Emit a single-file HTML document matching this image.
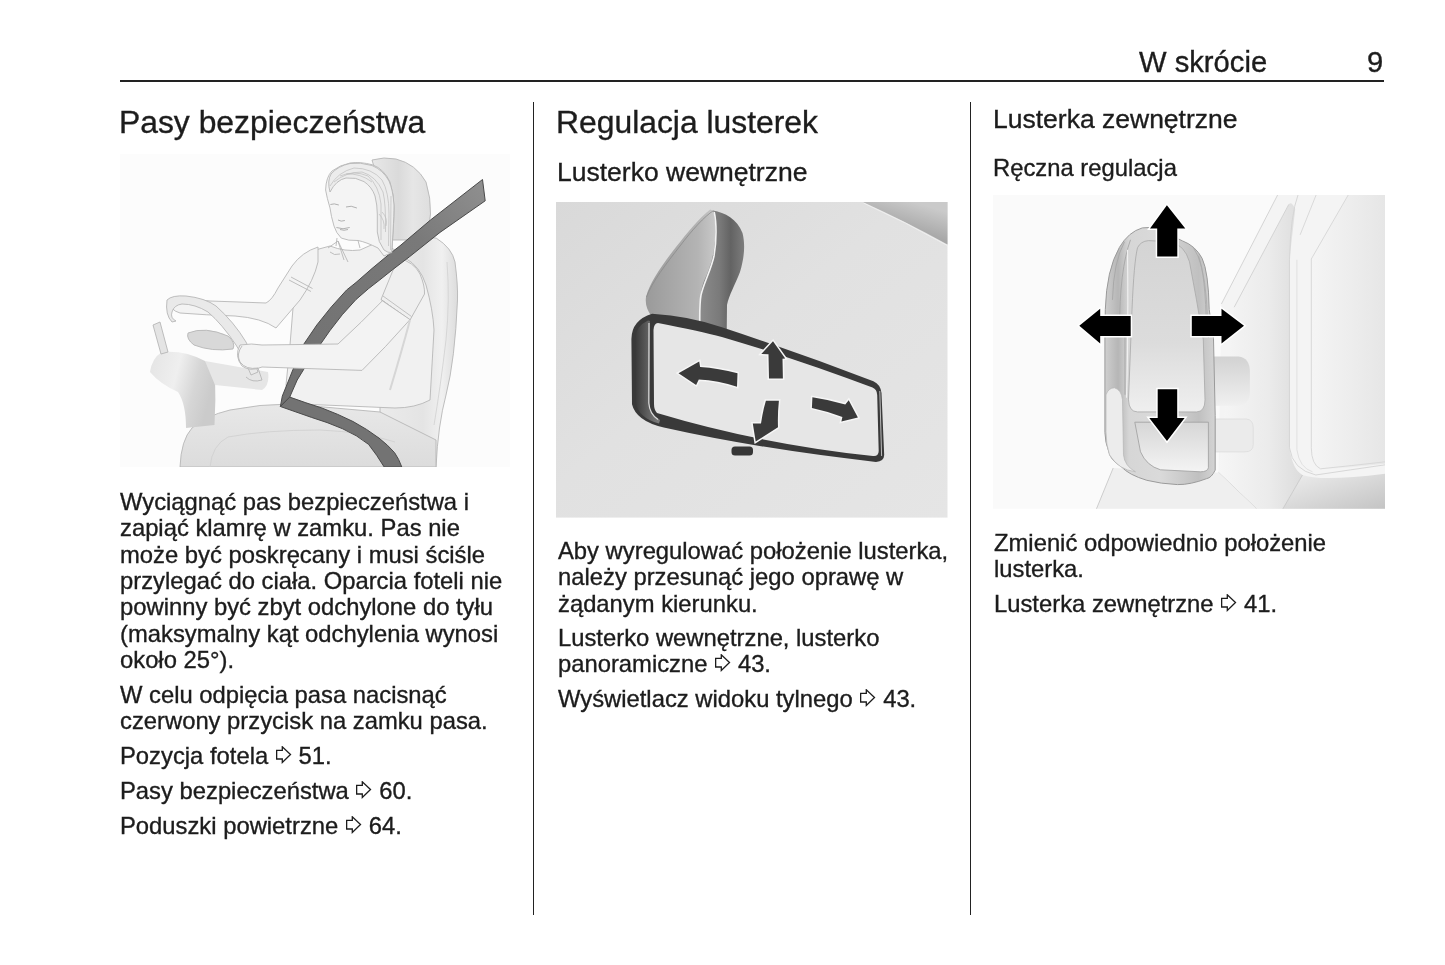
<!DOCTYPE html>
<html lang="pl">
<head>
<meta charset="utf-8">
<title>W skrócie 9</title>
<style>
html,body{margin:0;padding:0;background:#fff;}
body{width:1445px;height:965px;position:relative;overflow:hidden;font-family:"Liberation Sans",sans-serif;color:#1c1c1c;}
.t{position:absolute;white-space:nowrap;will-change:transform;-webkit-text-stroke:0.35px #1c1c1c;}
.h1{font-size:31.85px;line-height:40px;}
.h2{font-size:26.5px;line-height:32px;}
.hd{font-size:29.2px;line-height:36px;}
.p{font-size:23.8px;line-height:26.35px;}
.rule{position:absolute;background:#222;}
.ar{display:inline-block;width:16px;height:18px;vertical-align:0.3px;margin:0 0.4px 0 0.8px;}
.img{position:absolute;overflow:hidden;display:block;}
</style>
</head>
<body>
<!-- header -->
<div class="t hd" style="left:1139px;top:44.4px">W skrócie</div>
<div class="t hd" style="left:1367.3px;top:44.4px">9</div>
<div class="rule" style="left:120px;top:80px;width:1264px;height:1.6px"></div>
<div class="rule" style="left:532.7px;top:102.4px;width:1.8px;height:812.8px"></div>
<div class="rule" style="left:969.5px;top:102.4px;width:1.8px;height:812.8px"></div>

<!-- left column -->
<div class="t h1" style="left:118.8px;top:101.8px">Pasy bezpieczeństwa</div>
<svg class="img" style="left:120px;top:154px" width="390" height="313" viewBox="120 154 390 313">
<defs>
<linearGradient id="belt1" x1="1" y1="0" x2="0" y2="1"><stop offset="0" stop-color="#909090"/><stop offset="0.3" stop-color="#797979"/><stop offset="1" stop-color="#707070"/></linearGradient>
<linearGradient id="seat1" x1="0" y1="0" x2="1" y2="0"><stop offset="0" stop-color="#ebebeb"/><stop offset="0.55" stop-color="#e4e4e4"/><stop offset="0.8" stop-color="#f0f0f0"/><stop offset="1" stop-color="#dcdcdc"/></linearGradient>
<linearGradient id="hr1" x1="0" y1="0" x2="1" y2="0"><stop offset="0" stop-color="#e8e8e8"/><stop offset="0.45" stop-color="#dadada"/><stop offset="0.7" stop-color="#e6e6e6"/><stop offset="1" stop-color="#dedede"/></linearGradient>
<linearGradient id="cush1" x1="0" y1="0" x2="0" y2="1"><stop offset="0" stop-color="#e8e8e8"/><stop offset="1" stop-color="#dcdcdc"/></linearGradient>
<linearGradient id="dash1" x1="0" y1="0" x2="1" y2="0.3"><stop offset="0" stop-color="#e4e4e4"/><stop offset="0.45" stop-color="#efefef"/><stop offset="0.75" stop-color="#d6d6d6"/><stop offset="1" stop-color="#cbcbcb"/></linearGradient>
</defs>
<rect x="120" y="154" width="390" height="313" fill="#fcfcfc"/>
<g stroke="#b4b4b4" stroke-width="0.85">
<!-- seat back -->
<path d="M410 236 L436.2 238.1 Q452 248 455 262 Q458 285 457.5 300 Q455 360 446 395 Q438 425 436 467 L380 467 L380 300 Z" fill="url(#seat1)"/>
<path d="M447 262 Q450 300 446 340 Q440 390 434 425" fill="none" stroke="#d2d2d2"/>
<!-- headrest -->
<path d="M372 160 Q384 156.5 396 159 Q416 164 426 182 Q431 198 430.5 214 Q429.5 230 420 240 L392 240 L378 180 Z" fill="url(#hr1)"/>
<!-- seat cushion / thighs -->
<path d="M180 467 Q181 440 192 428 Q205 416 230 410 Q260 404 290 404 L380 412 L436 440 L436 467 Z" fill="url(#cush1)"/>
<path d="M210 467 Q212 445 228 437 Q265 430 320 430 Q365 432 395 442" fill="none" stroke="#d0d0d0"/>
<!-- torso -->
<path d="M308 252 L330 246 Q345 252 360 250 L378 242 Q395 248 405 258 Q420 266 426 285 Q433 310 434 330 L430 400 Q415 408 395 408 L300 404 Q288 400 286 385 L290 345 L293 308 Q298 280 308 252 Z" fill="#f1f1f1"/>
<!-- upper arm (to wheel top) -->
<path d="M318 247 Q302 252 292 266 L278 288 Q272 300 266 303 Q240 302 210 301 Q190 299 178 297 L170 300 Q169 310 180 313 Q205 315 235 316 Q262 318 276 328 L300 300 Q314 280 318 262 Z" fill="#f3f3f3"/>
<path d="M289 280 L311 291.5 M291 277 L312.5 288.5" fill="none"/>
<!-- steering column / dashboard -->
<path d="M162 352 Q185 350 205 361 Q212 368 215 376 Q216 400 214.5 425 L186 428 Q186 404 178 392 Q160 384 150 372 Q152 358 162 352 Z" fill="url(#dash1)" stroke="none"/>
<path d="M205 361 L268 372 Q270 385 262 390 L215 385 Z" fill="#e6e6e6" stroke="none"/>
<path d="M153 325 L160 322 L168 352 L161 354 Z" fill="#e4e4e4"/>
<path d="M188 333 Q205 326 228 336 Q236 343 233 349 Q212 352 194 345 Q186 339 188 333 Z" fill="#d8d8d8"/>
<!-- wheel rim -->
<path d="M167 300 Q172 295 186 296 Q205 298 216 306 Q234 322 246 342 Q254 356 258 372 L251 375 Q245 358 236 345 Q222 324 208 312 Q195 304 182 304 Q174 305 172 312 Q170 318 176 321 L172 322 Q165 315 167 300 Z" fill="#e9e9e9"/>
<!-- sleeve -->
<path d="M398 258 Q414 262 420 274 Q425 286 424.5 294 L410 320 L381 299.5 Z" fill="#efefef"/>
<path d="M381 299.5 L410 320 M383 296 L411.5 316.5" fill="none" stroke="#b8b8b8"/>
<!-- shoulder belt -->
<path d="M482.5 179.5 L430.5 220 L400 245.8 L389.5 254 L372 268.5 L356 282.5 L346.6 290 L331.3 306.9 L316.8 325 L303 345.3 L292.9 369.7 L288.8 380 L282.3 396.1 L280.4 406.5 L289.7 397.1 L297.2 380 L303.5 369.7 L319.7 345.3 L329.8 330.8 L342.2 314.8 L356 299.5 L368.7 288.5 L379.9 279.8 L392.3 269.9 L409.8 256.5 L440 232.4 L485.2 200.8 Z" fill="url(#belt1)" stroke="#4a4a4a" stroke-width="1"/>
<!-- lap belt -->
<path d="M289.7 397.1 Q306 403 321.9 408 Q338 414 353 421.5 Q367 429 379 438.1 Q388 445 394.6 452.7 Q399 459 401.8 467 L384.2 467 Q377 455 368.6 444.4 Q357 435 342.7 428.8 Q327 422 311.5 417.4 Q296 412 280.4 406.5 Z" fill="#737373" stroke="#4a4a4a" stroke-width="1"/>
<!-- forearm over belt -->
<path d="M240 345 Q252 343 262 345 L338 344 Q362 322 382.4 300.8 L410 319.6 Q385 348 362 370.4 L262 367 Q250 372 242 366 Q234 356 240 345 Z" fill="#f3f3f3"/>
<path d="M410 320 Q402 350 390 390" fill="none" stroke="#d6d6d6" stroke-width="2"/>
<path d="M242 346 Q236 354 240 362 Q246 370 258 368 L262 380 Q252 383 246 377" fill="none"/>
<!-- head -->
<path d="M325.6 190 Q326 177 332 171 Q340 165 350 163 Q360 161.5 372.5 164.8 Q384 169 390 182 Q394 194 394.1 208 Q394 222 393 232 Q392.5 244 391.7 252.6 L384 256 L378 248 Q366 242 358 240.5 Q348 241 341.3 238.1 Q336 233 334 226 Q331 216 330 208 Q327 198 325.6 190 Z" fill="#f4f4f4"/>
<path d="M330 192 Q336 180 346 178 Q356 177 364 181.6 Q372 187 375 196 Q377.3 205 377.3 214 L377.3 232 Q378 242 384 250 Q388 253 391.7 252.6 L393 232 Q394 214 394 205 Q393 190 389 181 Q383 170 372 165.5 Q360 162 350 163.5 Q338 166 331 174 Q327 181 330 192 Z" fill="#ececec"/>
<path d="M330 186 Q338 172 354 168 Q372 168 382 180 Q389 192 389 214 L388.5 246 M334 182 Q346 172 362 172 Q376 176 383 192 Q386 204 385.5 232 M340 176 Q354 170 368 176 Q379 186 381 204 L381 240 M346 174 Q360 173 372 182 M382 212 Q388 218 386 226 M379 214 Q385 220 384 229 M391 196 L390.5 250" fill="none" stroke="#bdbdbd" stroke-width="0.7"/>
<path d="M330.4 204.5 Q334 203 338.8 205 M346 207 Q351 205 356.9 208 M338 220 Q341 222 344.9 220.5 M336.4 227.5 Q343 230 349.7 227.5 M340 229.5 Q344 231 348 229.5" fill="none" stroke="#a8a8a8" stroke-width="0.9"/>
<path d="M337 238 L336 246 M358 240.5 L360 248" fill="none"/>
<path d="M328 248 L338 241 L348 262 M338 241 L344 260 M330 252 Q334 256 340 254" fill="none"/>
</g>
</svg>
<div class="t p" style="left:120.4px;top:488.5px">Wyciągnąć pas bezpieczeństwa i<br>zapiąć klamrę w zamku. Pas nie<br>może być poskręcany i musi ściśle<br>przylegać do ciała. Oparcia foteli nie<br>powinny być zbyt odchylone do tyłu<br>(maksymalny kąt odchylenia wynosi<br>około 25°).</div>
<div class="t p" style="left:120.4px;top:681.7px">W celu odpięcia pasa nacisnąć<br>czerwony przycisk na zamku pasa.</div>
<div class="t p" style="left:120.4px;top:742.5px">Pozycja fotela <svg class="ar"><use href="#arr"/></svg> 51.</div>
<div class="t p" style="left:120.4px;top:777.9px">Pasy bezpieczeństwa <svg class="ar"><use href="#arr"/></svg> 60.</div>
<div class="t p" style="left:120.4px;top:813.2px">Poduszki powietrzne <svg class="ar"><use href="#arr"/></svg> 64.</div>

<!-- middle column -->
<div class="t h1" style="left:555.7px;top:101.8px">Regulacja lusterek</div>
<div class="t h2" style="left:556.8px;top:156.3px">Lusterko wewnętrzne</div>
<svg class="img" style="left:556px;top:202px" width="391.5" height="315.6" viewBox="556 202 391.5 315.6">
<defs>
<linearGradient id="bg2" x1="0" y1="0" x2="1" y2="1"><stop offset="0" stop-color="#d9d9d9"/><stop offset="0.45" stop-color="#e1e1e1"/><stop offset="1" stop-color="#e5e5e5"/></linearGradient>
<linearGradient id="tr2" x1="0" y1="1" x2="0.6" y2="0"><stop offset="0" stop-color="#8a8a8a"/><stop offset="0.5" stop-color="#a8a8a8"/><stop offset="1" stop-color="#cacaca"/></linearGradient>
<linearGradient id="mtL" x1="0" y1="0" x2="1" y2="0"><stop offset="0" stop-color="#9a9a9a"/><stop offset="0.75" stop-color="#b4b4b4"/><stop offset="1" stop-color="#c8c8c8"/></linearGradient>
<linearGradient id="mtR" x1="0" y1="0" x2="1" y2="0"><stop offset="0" stop-color="#8c8c8c"/><stop offset="0.45" stop-color="#7a7a7a"/><stop offset="0.7" stop-color="#636363"/><stop offset="1" stop-color="#7c7c7c"/></linearGradient>
<linearGradient id="hs2" x1="0" y1="0" x2="1" y2="0"><stop offset="0" stop-color="#3a3a3a"/><stop offset="0.5" stop-color="#5e5e5e"/><stop offset="1" stop-color="#7e7e7e"/></linearGradient>
</defs>
<rect x="556" y="202" width="391.5" height="315.6" fill="url(#bg2)"/>
<path d="M862.8 202 Q905 221 947.5 244.5 V202 Z" fill="url(#tr2)"/>
<path d="M863.5 203 Q905.5 222 947.5 245.6" stroke="#efefef" stroke-width="1" fill="none"/>
<!-- mount -->
<path d="M710.2 209.5 C700 217 688 232 676 247 C662 265 650 282 646 297 C645 304 647 310 652 317 L699.5 328 C698.6 302 700 292 703.6 281.6 C710 268 714.5 255 715.3 235 C715.6 225 714.6 215 713 210.5 Z" fill="url(#mtL)"/>
<path d="M713 210.5 C725 212.5 737 219 742.5 233 C745.5 245 744.2 258 740 272 C735 285 729 295 727 305 L726.7 334 L699.5 328 C698.6 302 700 292 703.6 281.6 C710 268 714.5 255 715.3 235 C715.6 225 714.6 215 713 210.5 Z" fill="url(#mtR)"/>
<path d="M714.2 212 C716.5 222 716.8 240 714 256 C711 270 704 282 701 295 C699.5 303 699.6 312 699.8 326" stroke="#f2f2f2" stroke-width="1.6" fill="none"/>
<path d="M713.2 210.8 C705 216 692 230 680 246 C666 264 652 282 646.5 297" stroke="#8a8a8a" stroke-width="0.8" fill="none"/>
<!-- mirror frame -->
<path d="M652.1 313.7 Q690 316 721.9 327.3 Q800 353 873.4 381.3 Q880.5 384.5 881.5 393 L884.2 455 Q884 461.5 876 461.9 Q760 449 663.8 427.5 Q636 421 632 404.2 L631.4 339 Q631.6 320 652.1 313.7 Z" fill="#393939"/>
<path d="M635.5 338 Q636 326 648 320.5 L650 321 L649.5 404 Q650 414 660 420 L659 423.5 Q638 418 635.8 402 Z" fill="url(#hs2)"/>
<path d="M649 323 L648.8 403 Q649.5 414 658 419.5" stroke="#dcdcdc" stroke-width="1.2" fill="none"/>
<path d="M658 322.9 Q700 331 721.9 337 Q800 360 872.5 387.6 Q877 389.5 877.2 395 L878.7 451 Q878.6 456.6 873 456 Q760 444 657 413 Q654 410 654 404 L653.5 330 Q653.8 323.2 658 322.9 Z" fill="#e6e6e6"/>
<path d="M879.8 391 L881.6 456" stroke="#bdbdbd" stroke-width="1" fill="none"/>
<!-- arrows -->
<g fill="#3a3a3a" stroke="#f6f6f6" stroke-width="3" stroke-linejoin="miter" paint-order="stroke">
<path d="M678.5 373.2 L699.2 361.5 L700.1 366.9 Q718.6 368 737.5 373.2 L737 386.7 Q718 380.5 698.8 379.5 L696.1 384.9 Z"/>
<path d="M773 341.3 L785.2 358.4 L782.5 358.8 L782.9 378.6 L769 378.6 L768.5 354.3 L761.3 353.9 Z"/>
<path d="M765.9 400.7 L778.9 400.7 Q777.5 414 778 427.3 L755.7 441.4 L752.8 423.4 L761 423.4 Q763 410 765.9 400.7 Z"/>
<path d="M812.4 397.3 Q830 400 845.3 404.5 L848.7 400.2 L857.9 417.6 L841.4 421.5 L842.4 417.1 Q827 411 811.9 407.9 Z"/>
</g>
<rect x="731.5" y="446.5" width="21.5" height="9" rx="3.5" fill="#363636"/>
</svg>
<div class="t p" style="left:557.6px;top:537.5px">Aby wyregulować położenie lusterka,<br>należy przesunąć jego oprawę w<br>żądanym kierunku.</div>
<div class="t p" style="left:557.6px;top:625.1px">Lusterko wewnętrzne, lusterko<br>panoramiczne <svg class="ar"><use href="#arr"/></svg> 43.</div>
<div class="t p" style="left:557.6px;top:686.3px">Wyświetlacz widoku tylnego <svg class="ar"><use href="#arr"/></svg> 43.</div>

<!-- right column -->
<div class="t h2" style="left:992.8px;top:103.2px">Lusterka zewnętrzne</div>
<div class="t p" style="left:992.8px;top:154.8px">Ręczna regulacja</div>
<svg class="img" style="left:992.5px;top:195.2px" width="392.3" height="313.8" viewBox="992.5 195.2 392.3 313.8">
<defs>
<linearGradient id="pan3" x1="0" y1="0" x2="1" y2="0"><stop offset="0" stop-color="#f6f6f6"/><stop offset="0.6" stop-color="#ebebeb"/><stop offset="1" stop-color="#dcdcdc"/></linearGradient>
<linearGradient id="win3" x1="0" y1="0" x2="1" y2="0"><stop offset="0" stop-color="#f5f5f5"/><stop offset="1" stop-color="#e6e6e6"/></linearGradient>
<linearGradient id="bot3" x1="0" y1="0" x2="1" y2="1"><stop offset="0" stop-color="#eeeeee"/><stop offset="1" stop-color="#c4c4c4"/></linearGradient>
<linearGradient id="gl3" x1="0" y1="0" x2="0" y2="1"><stop offset="0" stop-color="#d4d4d4"/><stop offset="0.6" stop-color="#dcdcdc"/><stop offset="1" stop-color="#efefef"/></linearGradient>
<linearGradient id="lo3" x1="0" y1="0" x2="0" y2="1"><stop offset="0" stop-color="#d6d6d6"/><stop offset="1" stop-color="#f4f4f4"/></linearGradient>
<linearGradient id="arm3" x1="0" y1="0" x2="0" y2="1"><stop offset="0" stop-color="#d2d2d2"/><stop offset="1" stop-color="#f0f0f0"/></linearGradient>
<linearGradient id="hb3" x1="0" y1="0" x2="1" y2="0"><stop offset="0" stop-color="#cfcfcf"/><stop offset="0.12" stop-color="#b6b6b6"/><stop offset="0.22" stop-color="#d6d6d6"/><stop offset="0.5" stop-color="#dadada"/><stop offset="0.85" stop-color="#c0c0c0"/><stop offset="1" stop-color="#d4d4d4"/></linearGradient>
</defs>
<rect x="992.5" y="195.2" width="392.3" height="313.8" fill="#fafafa"/>
<!-- car body -->
<path d="M1277.1 195.2 L1384.8 195.2 L1384.8 509 L1256 509 L1218.1 472.7 L1220.9 304.2 Z" fill="#f4f4f4"/>
<path d="M1288.3 204.6 Q1291 201 1294.7 209.5 L1289 260 L1289 448 Q1292 470 1302 475.2 L1282.4 509 L1256 509 L1218.1 472.7 L1233.7 307.4 Z" fill="url(#pan3)"/>
<path d="M1277.1 195.2 L1220.9 304.2 M1288.3 204.6 L1233.7 307.4" stroke="#d0d0d0" stroke-width="0.9" fill="none"/>
<path d="M1297.5 195.2 Q1290 215 1289 260 L1289 448 Q1292 470 1315.3 475.2 Q1350 470 1384.8 465" stroke="#d4d4d4" stroke-width="0.9" fill="none"/>
<path d="M1310.8 259.2 L1347.7 195.2 L1384.8 195.2 L1384.8 464 Q1350 468 1318 470 Q1311 462 1310.8 448 Z" fill="url(#win3)"/>
<path d="M1310.8 259.2 L1347.7 195.2 M1299.6 235.1 L1315.6 195.2 M1310.8 259.2 L1310.8 448 Q1311 465 1320 469 Q1350 466 1384.8 462" stroke="#d6d6d6" stroke-width="0.9" fill="none"/>
<path d="M1296.4 260 L1296.4 450 Q1299 468 1312 472" stroke="#dedede" stroke-width="0.9" fill="none"/>
<path d="M1302 475.2 Q1320 482 1384.8 474 L1384.8 509 L1282.4 509 Z" fill="url(#bot3)"/>
<path d="M1302 475.2 L1282.4 509 M1218.1 472.7 L1256 509" stroke="#c8c8c8" stroke-width="0.9" fill="none"/>
<!-- base under mirror -->
<path d="M1112.7 468.2 L1096 509 L1256 509 L1218.4 472.9 Z" fill="#efefef"/>
<path d="M1112.7 468.2 L1096 509" stroke="#c8c8c8" stroke-width="0.9" fill="none"/>
<!-- mirror arm -->
<path d="M1211.5 356.6 L1238 356.6 Q1249.4 358 1249.4 372 L1249.4 392 Q1249.4 406 1236 406 L1211.5 406 Z" fill="url(#arm3)"/>
<path d="M1214.8 419.2 L1246 419.2 Q1252.7 420 1252.7 428 L1252.7 445 Q1252.7 452.1 1244 452.1 L1214.8 452.1 Z" fill="#ebebeb" stroke="#dcdcdc" stroke-width="0.8"/>
<!-- housing -->
<path d="M1104.4 338 L1104.8 309.7 Q1106 270 1118.9 247.6 Q1128 232 1141.8 228.1 Q1150 227 1156 228.6 L1182 241.1 Q1195 246 1201.6 258.5 Q1208 272 1208.7 309.7 L1213 338.6 L1214.7 415.5 L1214.7 470.3 Q1211 478 1206.2 478.8 Q1190 485 1177.1 484.8 Q1160 484 1146.3 480.5 Q1128 475 1120.7 466.8 Q1110 460 1108.7 453.2 Q1104.4 442 1104.4 432.6 Z" fill="url(#hb3)" stroke="#9a9a9a" stroke-width="1"/>
<path d="M1128 400 L1131.5 310 Q1133.5 262 1137 248 Q1140 241.5 1148 240.8 L1170 242 Q1184 245 1189 262 L1196 300 L1202.8 340 L1204.5 400 Q1204.5 412 1196 412.1 L1137 412.1 Q1128.5 412 1128 400 Z" fill="url(#gl3)" stroke="#a8a8a8" stroke-width="0.8"/>
<path d="M1134.3 422.4 L1207.9 422.4 L1207.9 468 Q1207 472 1200 472 L1160 470 Q1146 466 1140 452 Z" fill="url(#lo3)" stroke="#a4a4a4" stroke-width="0.9"/>
<path d="M1105.5 395 Q1108 388 1114 388 Q1121 390 1122 400 L1123 455 Q1124 466 1135 472 Q1118 470 1109 455 Q1105.5 445 1105.5 432 Z" fill="#ececec" stroke="#b4b4b4" stroke-width="0.7"/>
<path d="M1112 300 Q1113 262 1124 242 M1119 330 Q1119 270 1130 240 M1124.5 395 L1124.5 330" stroke="#a6a6a6" stroke-width="0.9" fill="none"/>
<path d="M1127 250 Q1128 330 1126 398" stroke="#f0f0f0" stroke-width="1.2" fill="none"/>
<path d="M1193 248 Q1203 262 1206 300 L1208 338 M1198 256 Q1205 275 1206 330" stroke="#a8a8a8" stroke-width="0.8" fill="none"/>
<!-- arrows -->
<g fill="#000" stroke="#fff" stroke-width="3" paint-order="stroke">
<path d="M1166.4 205.4 L1184.8 228.7 L1176.8 228.7 L1176.8 256.8 L1156.7 256.8 L1156.7 228.7 L1149.5 228.7 Z"/>
<path d="M1078.8 325.9 L1099.7 309 L1099.7 316.3 L1130.2 316.3 L1130.2 336.3 L1099.7 336.3 L1099.7 343.6 Z"/>
<path d="M1243.5 325.9 L1221 309 L1221 316.3 L1191.3 316.3 L1191.3 336.3 L1221 336.3 L1221 343.6 Z"/>
<path d="M1166.5 441.3 L1184.1 418.1 L1176.7 418.1 L1176.7 389.4 L1157.2 389.4 L1157.2 418.1 L1148.8 418.1 Z"/>
</g>
</svg>
<div class="t p" style="left:993.8px;top:529.8px">Zmienić odpowiednio położenie<br>lusterka.</div>
<div class="t p" style="left:993.8px;top:590.6px">Lusterka zewnętrzne <svg class="ar"><use href="#arr"/></svg> 41.</div>

<svg width="0" height="0" style="position:absolute">
<defs>
<g id="arr"><path d="M0.65 4.4H6.3V0.8L14.5 8.5L6.3 16.4V13.0H0.65Z" fill="none" stroke="#1c1c1c" stroke-width="1.3" stroke-linejoin="miter"/></g>
</defs>
</svg>
</body>
</html>
